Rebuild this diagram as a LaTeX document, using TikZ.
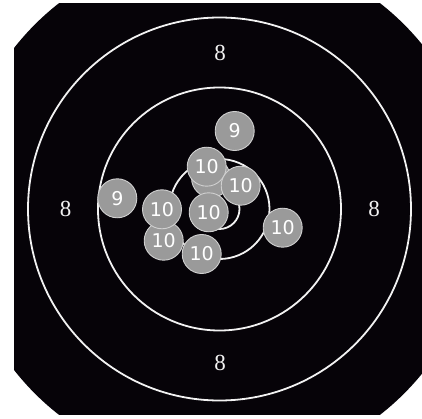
\documentclass[tikz,border=0pt]{standalone}
\usepackage{fontspec}
\newfontfamily\shotfont{DejaVu Sans}
\newfontfamily\ringfont{Liberation Serif}
\usepackage{xcolor}
\usetikzlibrary{positioning}
\definecolor{targetblack}{HTML}{060308}
\definecolor{ringwhite}{HTML}{F2F2F2}
\definecolor{shotgray}{HTML}{9A9A9A}
\definecolor{shotedge}{HTML}{D0D0D0}
\tikzset{
  ringline/.style={draw=ringwhite,line width=1.8pt},
  ringlabel/.style={text=ringwhite,inner sep=0pt,
                    font=\ringfont\fontsize{23}{23}\selectfont},
  shotmark/.style={circle,draw=shotedge,fill=shotgray,line width=0.9pt,
                   minimum size=39pt,inner sep=0pt,text=white,
                   font=\shotfont\fontsize{19}{19}\selectfont}
}
\begin{document}
\begin{tikzpicture}[x=1pt,y=1pt]
  \useasboundingbox (0,0) rectangle (422,418);
  \coordinate (c) at (219.5,209);
  % target card
  \begin{scope}
    \clip (c) circle (261pt);
    \fill[targetblack] (14,3) rectangle (422,415);
  \end{scope}
  \draw[ringline] (c) circle (191.5pt);
  \draw[ringline] (c) circle (121.5pt);
  \draw[ringline] (c) circle (50pt);
  \draw[ringline] (c) circle (20pt);

  \node[ringlabel] (eightN) at (220,365) {8};
  \node[ringlabel] (eightW) at (65.7,209) {8};
  \node[ringlabel] (eightE) at (374,209) {8};
  \node[ringlabel] (eightS) at (220,55) {8};

  % hits
  \node[shotmark] (tenHidden) at (211,240) {};
  \node[shotmark] (tenTop) at (206.7,251.3) {10};
  \node[shotmark] (tenRightUp) at (240.7,232.3) {10};
  \node[shotmark] (tenCenter) at (208.7,205.7) {10};
  \node[shotmark] (tenLowLeft) at (163.7,177.3) {10};
  \node[shotmark] (tenLeft) at (162,208.7) {10};
  \node[shotmark] (tenBottom) at (201.7,164) {10};
  \node[shotmark] (nineTop) at (234.7,287) {9};
  \node[shotmark] (nineLeft) at (117.3,219.7) {9};
  \node[shotmark] (tenRight) at (282.7,190.3) {10};
\end{tikzpicture}
\end{document}
